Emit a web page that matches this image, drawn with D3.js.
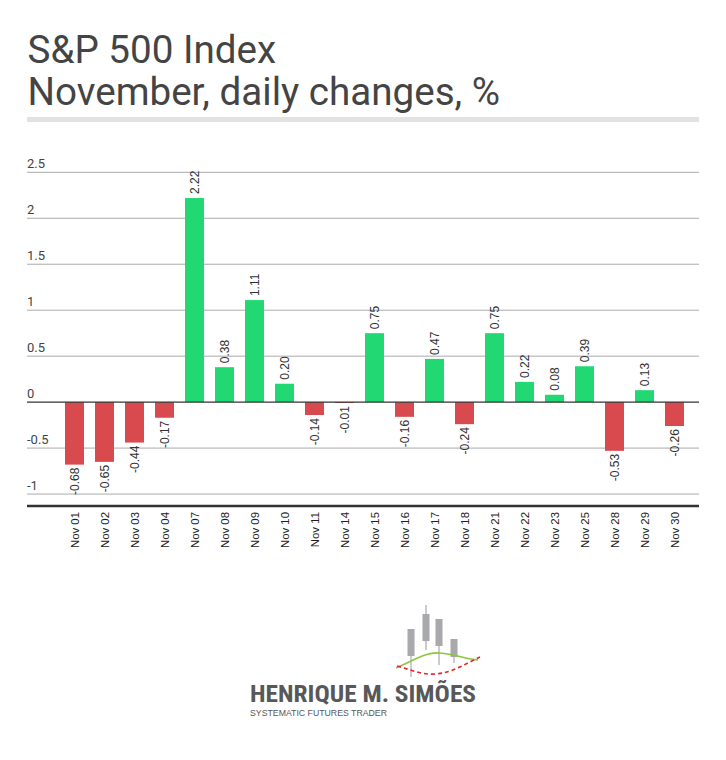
<!DOCTYPE html>
<html>
<head>
<meta charset="utf-8">
<script src="https://cdn.jsdelivr.net/npm/d3@7"></script>
<style>
html,body{margin:0;padding:0;background:#fff;}
svg{display:block;}
</style>
</head>
<body>
<svg id="chart" width="726" height="760"></svg>
<script>
const categories = ["Nov 01","Nov 02","Nov 03","Nov 04","Nov 07","Nov 08","Nov 09","Nov 10","Nov 11","Nov 14","Nov 15","Nov 16","Nov 17","Nov 18","Nov 21","Nov 22","Nov 23","Nov 25","Nov 28","Nov 29","Nov 30"];
const values = [-0.68,-0.65,-0.44,-0.17,2.22,0.38,1.11,0.20,-0.14,-0.01,0.75,-0.16,0.47,-0.24,0.75,0.22,0.08,0.39,-0.53,0.13,-0.26];
const yTicks = [-1,-0.5,0,0.5,1,1.5,2,2.5];
const yTickLabels = ["-1","-0.5","0","0.5","1","1.5","2","2.5"];
const titleLines = ["S&P 500 Index","November, daily changes, %"];

const svg = d3.select("#chart");
const left = 27, right = 699;

// Title
svg.selectAll("text.title").data(titleLines).join("text")
  .attr("class","title")
  .attr("x", 27.5)
  .attr("y", (d,i) => 62.5 + i*42)
  .attr("font-family","Roboto, 'Noto Sans', sans-serif")
  .attr("font-size", 38.6)
  .attr("fill","#444")
  .text(d => d);
svg.append("rect").attr("x",27).attr("y",117).attr("width",672).attr("height",5).attr("fill","#e2e2e2");

// Scales
const x = d3.scaleBand().domain(categories).range([59.5, 689.5]).paddingInner(11/30).paddingOuter(11/60);
const y = d3.scaleLinear().domain([-1.13, 2.5]).range([506, 172.3]);

// Gridlines
const g = svg.append("g");
g.selectAll("line.grid").data(yTicks.filter(d => d !== 0)).join("line")
  .attr("x1", left).attr("x2", right)
  .attr("y1", d => y(d)).attr("y2", d => y(d))
  .attr("stroke","#aaa").attr("stroke-width",1);

g.selectAll("text.ytick").data(yTicks).join("text")
  .attr("x", left)
  .attr("y", d => y(d) - 4.5)
  .attr("font-family","Roboto, 'Noto Sans', sans-serif")
  .attr("font-size", 13)
  .attr("fill","#444")
  .text((d,i) => yTickLabels[i]);

// Bars
const green = "#22d872", red = "#d94a4f";
g.selectAll("rect.bar").data(values).join("rect")
  .attr("x", (d,i) => x(categories[i]))
  .attr("width", x.bandwidth())
  .attr("y", d => y(Math.max(0,d)))
  .attr("height", d => Math.abs(y(d) - y(0)))
  .attr("fill", d => d >= 0 ? green : red);

// zero line
g.append("line").attr("x1",left).attr("x2",right).attr("y1",y(0)).attr("y2",y(0))
  .attr("stroke","#333").attr("stroke-width",1.3);

// bottom axis line
g.append("line").attr("x1",left).attr("x2",right).attr("y1",506).attr("y2",506)
  .attr("stroke","#333").attr("stroke-width",2.5);

// value labels
g.selectAll("text.val").data(values).join("text")
  .attr("transform", (d,i) => {
    const cx = x(categories[i]) + x.bandwidth()/2;
    const yy = d >= 0 ? y(d) - 4 : y(d) + 3;
    return `translate(${cx},${yy}) rotate(-90)`;
  })
  .attr("dy","0.35em")
  .attr("text-anchor", d => d >= 0 ? "start" : "end")
  .attr("font-family","'Liberation Sans', Arial, sans-serif")
  .attr("font-size", 12)
  .attr("fill","#333")
  .text(d => d.toFixed(2));

// x labels
g.selectAll("text.xl").data(categories).join("text")
  .attr("transform", d => `translate(${x(d) + x.bandwidth()/2},512) rotate(-90)`)
  .attr("dy","0.35em")
  .attr("text-anchor","end")
  .attr("font-family","'Liberation Sans', Arial, sans-serif")
  .attr("font-size", 11.4)
  .attr("fill","#1e1e1e")
  .text(d => d);

// Logo (decorative)
const logo = svg.append("g");
const candles = [
  {x:407.5, w:7, bt:629, bb:656, wt:629, wb:677},
  {x:422.5, w:7, bt:614, bb:641, wt:605, wb:650},
  {x:435.5, w:7, bt:619, bb:646, wt:619, wb:665},
  {x:450.5, w:7, bt:639, bb:657, wt:639, wb:663}
];
candles.forEach(c => {
  logo.append("line").attr("x1",c.x+c.w/2).attr("x2",c.x+c.w/2).attr("y1",c.wt).attr("y2",c.wb)
    .attr("stroke","#a8a8ad").attr("stroke-width",1.2);
  logo.append("rect").attr("x",c.x).attr("y",c.bt).attr("width",c.w).attr("height",c.bb-c.bt).attr("fill","#a8a8ad");
});
logo.append("path").attr("d","M396,668 C415,660 425,652 440,653 C455,654 465,659 478,660")
  .attr("fill","none").attr("stroke","#8cc63f").attr("stroke-width",1.6);
logo.append("path").attr("d","M397,666 C412,670 422,675 435,674 C452,673 465,664 480,657")
  .attr("fill","none").attr("stroke","#e0262f").attr("stroke-width",1.6).attr("stroke-dasharray","4,3");
logo.append("text").attr("x",250).attr("y",702)
  .attr("font-family","'Liberation Sans Narrow', 'Roboto Condensed', 'Liberation Sans', Arial, sans-serif")
  .attr("font-weight","bold").attr("font-size",24).attr("fill","#58585a")
  .attr("textLength",226).attr("lengthAdjust","spacingAndGlyphs")
  .text("HENRIQUE M. SIMÕES");
logo.append("text").attr("x",250).attr("y",716)
  .attr("font-family","'Liberation Sans Narrow', 'Liberation Sans', Arial, sans-serif")
  .attr("font-size",9).attr("fill","#58585a")
  .attr("textLength",137).attr("lengthAdjust","spacingAndGlyphs")
  .text("SYSTEMATIC FUTURES TRADER");
</script>
</body>
</html>
